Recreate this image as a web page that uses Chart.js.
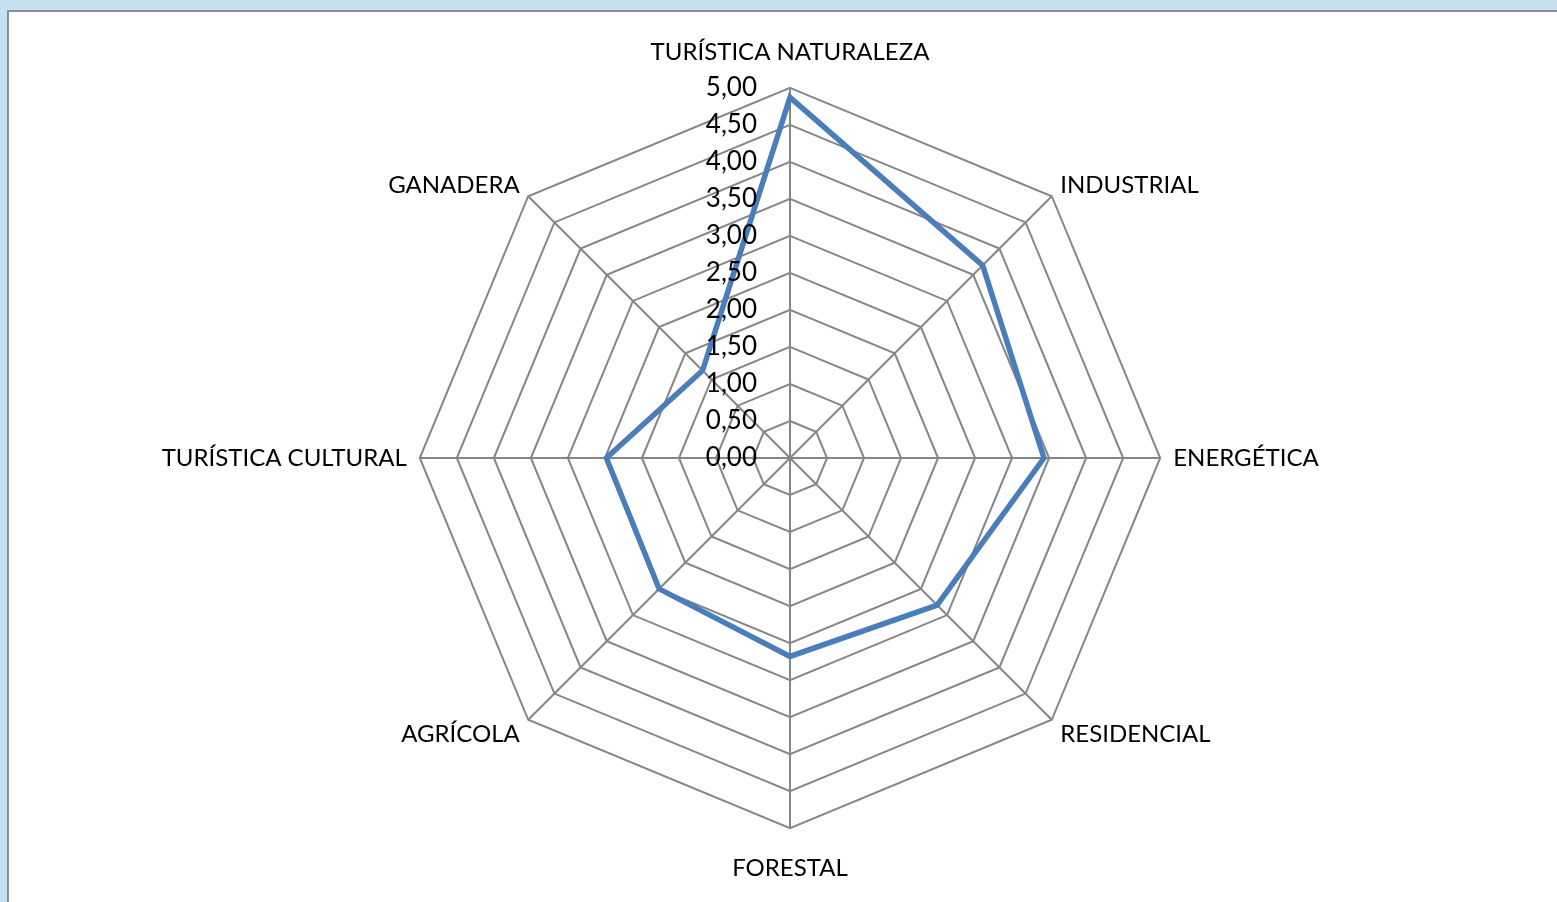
<!DOCTYPE html>
<html>
<head>
<meta charset="utf-8">
<script src="https://cdn.jsdelivr.net/npm/chart.js@4.4.1/dist/chart.umd.min.js"></script>
<style>
  html, body { margin: 0; padding: 0; overflow: hidden; background: #c5e0f1; }
  #frame {
    position: absolute; left: 7px; top: 10px; width: 1600px; height: 950px;
    background: #fff; border-left: 2px solid #8e8e8e; border-top: 2px solid #8e8e8e;
  }
  #chart { position: absolute; left: 10px; top: 10px; }
</style>
</head>
<body>
<div id="frame"></div>
<canvas id="chart" width="1560" height="898"></canvas>
<script>
const categories = [
  "TURÍSTICA NATURALEZA",
  "INDUSTRIAL",
  "ENERGÉTICA",
  "RESIDENCIAL",
  "FORESTAL",
  "AGRÍCOLA",
  "TURÍSTICA CULTURAL",
  "GANADERA",
];
const scores = [4.87, 3.68, 3.43, 2.81, 2.68, 2.5, 2.48, 1.67];
const tickMin = 0;
const tickMax = 5;
const tickStep = 0.5;

const fmt = (v) => v.toFixed(2).replace(".", ",");

// tick labels sit left of the vertical axis, right aligned, over the line
const sideTicks = {
  id: "sideTicks",
  afterDatasetsDraw(chart) {
    const scale = chart.scales.r;
    const ctx = chart.ctx;
    ctx.save();
    ctx.font = "26px Lato, 'Open Sans', sans-serif";
    ctx.fillStyle = "#000";
    ctx.textAlign = "right";
    ctx.textBaseline = "middle";
    scale.ticks.forEach((t) => {
      const d = scale.getDistanceFromCenterForValue(t.value);
      ctx.fillText(fmt(t.value), scale.xCenter - 33, scale.yCenter - d);
    });
    ctx.restore();
  },
};

// per label: padding and line height (line height nudges diagonal labels vertically)
const labelPad = [21, 12, 13, 12, 26, 12, 13, 12];
const labelLine = ["28.8px", "4px", "28.8px", "12px", "28.8px", "12px", "28.8px", "4px"];

new Chart(document.getElementById("chart"), {
  type: "radar",
  data: {
    labels: categories,
    datasets: [
      {
        data: scores,
        borderColor: "#4a7ebb",
        borderWidth: 5.5,
        fill: false,
        pointRadius: 0,
        tension: 0,
      },
    ],
  },
  options: {
    responsive: false,
    animation: false,
    layout: { padding: { top: 26, bottom: 23 } },
    plugins: { legend: { display: false }, tooltip: { enabled: false } },
    scales: {
      r: {
        min: tickMin,
        max: tickMax,
        ticks: { stepSize: tickStep, display: false },
        grid: { circular: false, color: "#868686", lineWidth: 2 },
        angleLines: { color: "#868686", lineWidth: 2 },
        pointLabels: {
          color: "#000",
          padding: (ctx) => labelPad[ctx.index],
          font: (ctx) => ({
            family: "Lato, 'Open Sans', sans-serif",
            size: 24,
            lineHeight: labelLine[ctx.index],
          }),
        },
      },
    },
  },
  plugins: [sideTicks],
});
</script>
</body>
</html>
